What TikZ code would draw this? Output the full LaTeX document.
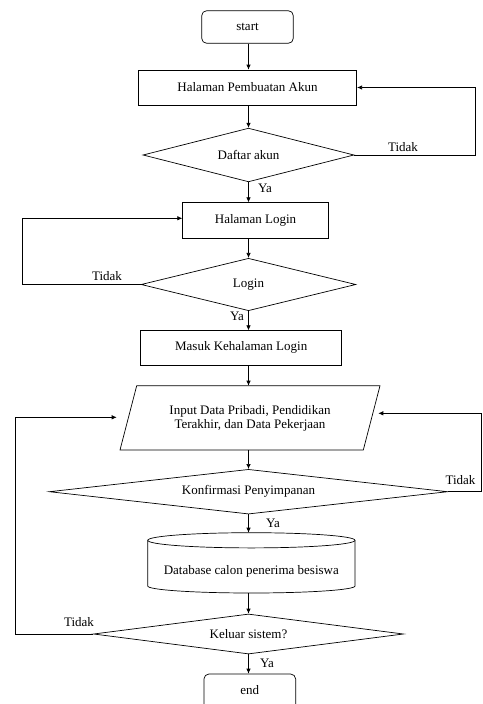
\documentclass[tikz,border=0pt]{standalone}
\usepackage{fontspec}
\setmainfont{Liberation Serif}
\usetikzlibrary{shapes.geometric,arrows.meta}
\begin{document}
\begin{tikzpicture}[x=1pt,y=-1pt,
  line width=0.7pt,
  every node/.style={font=\fontsize{13}{14}\selectfont},
  box/.style={draw, rectangle, inner sep=0pt},
  term/.style={draw, rectangle, rounded corners=5pt, inner sep=0pt, minimum width=91.6pt, minimum height=32.6pt},
  dec/.style={draw, diamond, aspect=6, inner sep=0pt},
  arr/.style={-{Latex[length=5pt,width=4.5pt]}},
  lbl/.style={inner sep=0pt}
]
\useasboundingbox (0,0) rectangle (482,704);
\coordinate (ax) at (248.5,0);
% nodes
\node[term] (start) at (247.5,27) {start};
\node[box, minimum width=218.4pt, minimum height=35pt] (akun) at (247.5,87.5) {Halaman Pembuatan Akun};
\node[dec, minimum width=211pt, minimum height=53.7pt] (daftar) at (248.5,155) {Daftar akun};
\node[box, minimum width=145.6pt, minimum height=35.6pt] (login) at (255.5,220.5) {Halaman Login};
\node[dec, minimum width=214.7pt, minimum height=52.4pt] (logind) at (248.5,284.5) {Login};
\node[box, minimum width=201pt, minimum height=34.3pt] (masuk) at (241.2,347.8) {Masuk Kehalaman Login};
% parallelogram
\node[lbl, align=center] (inp) at (250,418) {Input Data Pribadi, Pendidikan\\Terakhir, dan Data Pekerjaan};
\draw (136.7,385.7) -- (380,385.7) -- (363.3,450) -- (120,450) -- cycle;
\coordinate (inpT) at (248.5,385.7);
\coordinate (inpB) at (248.5,450);
\coordinate (inpL) at (116.7,417.3);
\coordinate (inpR) at (378.3,413.3);
\node[dec, minimum width=398.4pt, minimum height=44.7pt] (konf) at (248.5,491.7) {Konfirmasi Penyimpanan};
% cylinder
\node[lbl] (db) at (251.3,571.7) {Database calon penerima besiswa};
\draw (147.7,540.3) -- (147.7,586) arc[start angle=180, end angle=0, x radius=103.65, y radius=7] -- (355,540.3);
\draw (251.35,540.3) ellipse[x radius=103.65, y radius=7.6];
\coordinate (dbT) at (248.5,532.7);
\coordinate (dbB) at (248.5,593);
\node[dec, minimum width=310pt, minimum height=40pt] (keluar) at (248.5,634) {Keluar sistem?};
\node[term, minimum width=91.7pt, minimum height=36pt] (end) at (249.8,692) {};
\node[lbl] (endtxt) at (249.8,690) {end};
% main flow
\draw[arr] (ax |- start.south) -- (ax |- akun.north);
\draw[arr] (ax |- akun.south) -- (daftar.north);
\draw[arr] (daftar.south) -- (ax |- login.north);
\draw[arr] (ax |- login.south) -- (logind.north);
\draw[arr] (logind.south) -- (ax |- masuk.north);
\draw[arr] (ax |- masuk.south) -- (inpT);
\draw[arr] (inpB) -- (konf.north);
\draw[arr] (konf.south) -- (dbT);
\draw[arr] (dbB) -- (keluar.north);
\draw[arr] (keluar.south) -- (ax |- end.north);
% loops
\draw[arr] (daftar.east) -- (475,155) -- (475,87.5) -- (akun.east);
\draw[arr] (logind.west) -- (22.3,284.5) -- (22.3,218.3) -- (login.west |- 0,218.3);
\draw[arr] (konf.east) -- (481,491.7) -- (481,413.3) -- (inpR);
\draw[arr] (keluar.west) -- (15.7,634) -- (15.7,417.3) -- (inpL);
% labels
\node[lbl] (t1) at (403,147) {Tidak};
\node[lbl] (t2) at (107,276) {Tidak};
\node[lbl] (t3) at (460.5,480.5) {Tidak};
\node[lbl] (t4) at (79,621.7) {Tidak};
\node[lbl] (y1) at (265,188) {Ya};
\node[lbl] (y2) at (237,316) {Ya};
\node[lbl] (y3) at (273,523) {Ya};
\node[lbl] (y4) at (267,663) {Ya};
\end{tikzpicture}
\end{document}
